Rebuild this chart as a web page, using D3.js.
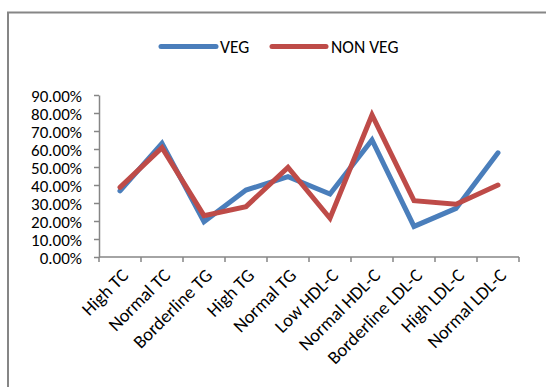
<!DOCTYPE html>
<html>
<head>
<meta charset="utf-8">
<script src="https://cdn.jsdelivr.net/npm/d3@7"></script>
<style>
  html, body { margin: 0; padding: 0; background: #fff; }
  svg { display: block; }
  text { font-family: Carlito, Lato, "Open Sans", sans-serif; fill: #000; }
</style>
</head>
<body>
<script>
// Lipid profile categories and share of each group (percent)
const categories = ["High TC", "Normal TC", "Borderline TG", "High TG", "Normal TG",
  "Low HDL-C", "Normal HDL-C", "Borderline LDL-C", "High LDL-C", "Normal LDL-C"];
const vegValues    = [36.7, 63.2, 19.6, 37.2, 44.6, 35.0, 65.0, 17.0, 27.0, 57.9];
const nonVegValues = [38.7, 60.7, 23.0, 28.0, 49.8, 21.5, 78.9, 31.3, 29.3, 40.0];
const yTicks = [0, 10, 20, 30, 40, 50, 60, 70, 80, 90];
const seriesNames = ["VEG", "NON VEG"];
const seriesColors = ["#4A7EBB", "#BE4B48"];

const W = 546, H = 387;
const svg = d3.select("body").append("svg").attr("width", W).attr("height", H);

// Outer chart frame (top and left edges visible)
svg.append("path")
  .attr("d", `M8,${H} L8,12.5 L${W},12.5`)
  .attr("fill", "none").attr("stroke", "#868686").attr("stroke-width", 2);

const plot = { left: 99, right: 519, top: 95, bottom: 257 };

const x = d3.scaleBand().domain(categories).range([plot.left, plot.right]).padding(0);
const y = d3.scaleLinear().domain([0, 90]).range([plot.bottom, plot.top]);

// Y axis
const yAxis = svg.append("g").attr("transform", `translate(${plot.left},0)`)
  .call(d3.axisLeft(y).tickValues(yTicks).tickSize(5).tickSizeOuter(0)
    .tickFormat(d => d.toFixed(2) + "%"));
yAxis.attr("font-size", null).attr("font-family", null);
yAxis.select(".domain").attr("stroke", "#868686").attr("stroke-width", 1.5);
yAxis.selectAll(".tick line").attr("stroke", "#868686").attr("stroke-width", 1.5);
yAxis.selectAll(".tick text").attr("x", -17).attr("dy", "0.36em")
  .style("font-size", "17px").attr("fill", "#000");

// X axis with category boundary ticks
const xg = svg.append("g").attr("transform", `translate(0,${plot.bottom})`);
xg.append("line").attr("x1", plot.left).attr("x2", plot.right)
  .attr("stroke", "#868686").attr("stroke-width", 1.5);
const bounds = categories.map(c => x(c)).concat([plot.right]);
xg.selectAll("line.tk").data(bounds).enter().append("line").attr("class", "tk")
  .attr("x1", d => d).attr("x2", d => d).attr("y1", 0).attr("y2", 5)
  .attr("stroke", "#868686").attr("stroke-width", 1.5);
xg.selectAll("text.cat").data(categories).enter().append("text").attr("class", "cat")
  .attr("text-anchor", "end").style("font-size", "18.5px")
  .attr("transform", d => `translate(${x(d) + x.bandwidth() / 2 + 5},${15}) rotate(-45)`)
  .attr("dy", "0.35em")
  .text(d => d);

// Series lines
const line = d3.line().x((d, i) => x(categories[i]) + x.bandwidth() / 2).y(d => y(d));
[vegValues, nonVegValues].forEach((vals, k) => {
  svg.append("path").datum(vals)
    .attr("d", line)
    .attr("fill", "none").attr("stroke", seriesColors[k]).attr("stroke-width", 5)
    .attr("stroke-linejoin", "miter").attr("stroke-linecap", "round");
});

// Legend
const legendItems = [{ x1: 161, x2: 216, tx: 220 }, { x1: 272, x2: 326, tx: 331 }];
legendItems.forEach((it, k) => {
  svg.append("line").attr("x1", it.x1).attr("x2", it.x2).attr("y1", 46.5).attr("y2", 46.5)
    .attr("stroke", seriesColors[k]).attr("stroke-width", 5).attr("stroke-linecap", "round");
  svg.append("text").attr("x", it.tx).attr("y", 46.5).attr("dy", "0.35em")
    .style("font-size", "17.5px").text(seriesNames[k]);
});
</script>
</body>
</html>
